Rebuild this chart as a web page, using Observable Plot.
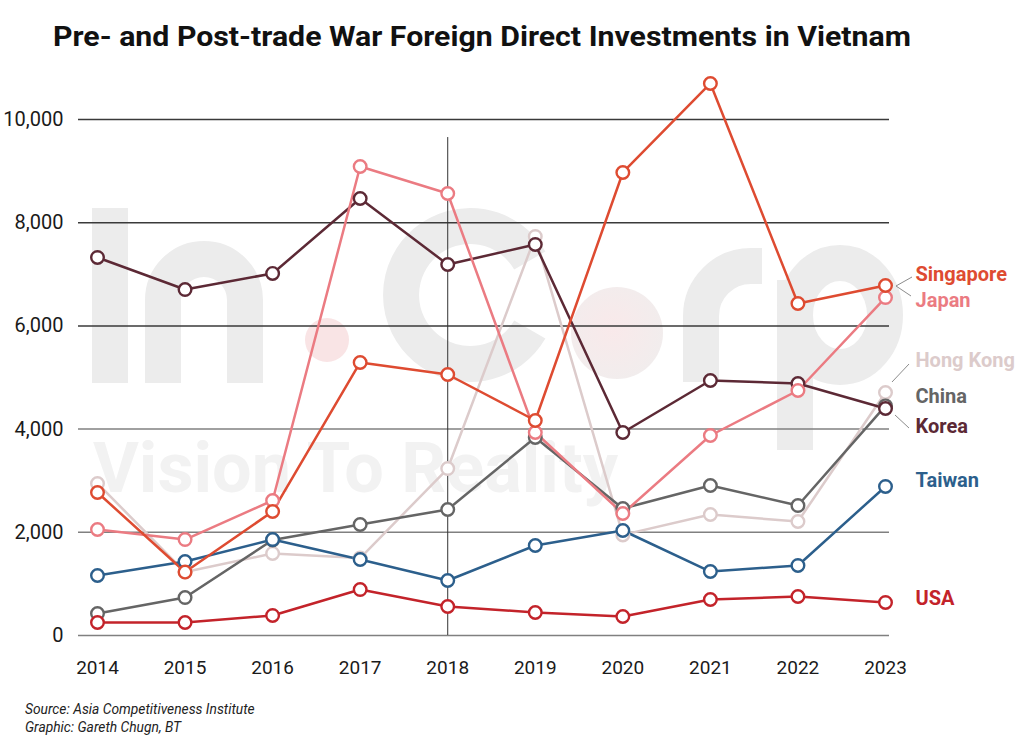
<!DOCTYPE html>
<html>
<head>
<meta charset="utf-8">
<script src="https://cdn.jsdelivr.net/npm/d3@7"></script>
<script src="https://cdn.jsdelivr.net/npm/@observablehq/plot@0.6"></script>
<style>
  html, body { margin: 0; padding: 0; background: #fff; }
  #wrap { position: relative; width: 1024px; height: 744px; overflow: hidden; font-family: Roboto, "Noto Sans", sans-serif; }
  #wm { position: absolute; left: 0; top: 0; z-index: 0; }
  #title { position: relative; z-index: 1; height: 70px; box-sizing: border-box; padding: 24px 0 0 53px; white-space: nowrap; }
  #title span { display: inline-block; font-size: 27px; line-height: 27px; font-weight: 700; color: #111; transform-origin: 0 50%; }
  #chart { position: relative; z-index: 1; height: 630px; }
  #caption { position: relative; z-index: 1; padding-left: 25px; font-size: 13.8px; line-height: 18px; font-style: italic; color: #222; }
</style>
</head>
<body>
<div id="wrap">
  <svg id="wm" width="1024" height="744" aria-hidden="true">
    <rect x="92" y="208" width="36" height="175" fill="#ececec"/>
    <g fill="none" stroke="#ececec" stroke-width="36">
      <path d="M163,383 V300 A41,41 0 0 1 245,300 V383"/>
      <path d="M529.8,260.5 A69,69 0 1 0 529.8,329.5"/>
      <path d="M701,382 V316 A50,50 0 0 1 751,266 H762"/>
      <line x1="795" y1="280" x2="795" y2="450"/>
      <ellipse cx="840" cy="315" rx="45" ry="52"/>
    </g>
    <circle cx="327" cy="340" r="22" fill="#f9e4e5"/>
    <defs>
      <radialGradient id="globe" cx="45%" cy="45%" r="60%">
        <stop offset="0%" stop-color="#f9e9ea"/>
        <stop offset="100%" stop-color="#f1eded"/>
      </radialGradient>
    </defs>
    <circle cx="617" cy="333" r="46" fill="url(#globe)"/>
    <text x="93" y="492" font-family="Roboto" font-weight="700" font-size="70" fill="#f2f2f2" textLength="525" lengthAdjust="spacingAndGlyphs">Vision To Reality</text>
  </svg>
  <div id="title"><span>Pre- and Post-trade War Foreign Direct Investments in Vietnam</span></div>
  <div id="chart"></div>
  <div id="caption">Source: Asia Competitiveness Institute<br>Graphic: Gareth Chugn, BT</div>
</div>
<script>
// ---- data ----
const years = [2014, 2015, 2016, 2017, 2018, 2019, 2020, 2021, 2022, 2023];
const hongKong  = [2946, 1230, 1590, 1500, 3236, 7733, 1950, 2345, 2209, 4709];
const china     = [ 426,  736, 1850, 2151, 2442, 3837, 2461, 2907, 2519, 4450];
const korea     = [7326, 6705, 7016, 8469, 7190, 7578, 3934, 4942, 4884, 4399];
const japan     = [2054, 1860, 2616, 9089, 8566, 3934, 2364, 3876, 4748, 6550];
const taiwan    = [1163, 1434, 1860, 1473, 1066, 1744, 2035, 1240, 1357, 2888];
const singapore = [2771, 1230, 2403, 5291, 5058, 4167, 8973, 10698, 6434, 6783];
const usa       = [ 252,  252,  388,  891,  562,  446,  368,  698,  756,  640];
const countries = ["Hong Kong", "China", "Korea", "Japan", "Taiwan", "Singapore", "USA"];
const seriesValues = [hongKong, china, korea, japan, taiwan, singapore, usa];
const yTicks = [0, 2000, 4000, 6000, 8000, 10000];
const dividerYear = 2018;
const dividerTop = 9650;

// ---- styles ----
const colors = ["#dccbcb", "#656565", "#5c2935", "#eb7b82", "#2c5f8c", "#de4b31", "#c3232a"];
// label offsets (px) from the last point
const labelDy = {"Singapore": -11, "Japan": 3, "Hong Kong": -32, "China": -9, "Korea": 18, "Taiwan": -6, "USA": -4};
const leaderPaths = [
  {country: "Singapore", pts: [[27, -8], [11, 1], [26, 11]]},
  {country: "Hong Kong", pts: [[7, -10], [24, -28]]},
  {country: "Korea", pts: [[10, 7], [24, 20]]}
];

const table = countries.flatMap((c, k) => years.map((year, i) => ({country: c, year, value: seriesValues[k][i]})));
const lastOf = c => table.find(d => d.country === c && d.year === years[years.length - 1]);

function leaders(index, scales) {
  const g = d3.create("svg:g").attr("fill", "none").attr("stroke", "#8c8c8c").attr("stroke-width", 1);
  for (const l of leaderPaths) {
    const d = lastOf(l.country);
    const px = scales.x(d.year), py = scales.y(d.value);
    g.append("path").attr("d", "M" + l.pts.map(([dx, dy]) => `${px + dx},${py + dy}`).join("L"));
  }
  return g.node();
}

const labelMarks = countries.map((c, k) => Plot.text([lastOf(c)], {
  x: "year", y: "value", text: "country", dx: 30, dy: labelDy[c],
  textAnchor: "start", fill: colors[k], fontWeight: "bold", fontSize: 20
}));

const plot = Plot.plot({
  width: 1024,
  height: 630,
  marginLeft: 78,
  marginRight: 135,
  marginTop: 49,
  marginBottom: 65,
  style: {background: "transparent", fontFamily: "Roboto, 'Noto Sans', sans-serif", color: "#1a1a1a"},
  x: {domain: [years[0], years[years.length - 1]], range: [97, 885], label: null},
  y: {domain: [0, 10000], label: null},
  color: {domain: countries, range: colors},
  marks: [
    Plot.ruleY(yTicks, {stroke: d => d >= 6000 ? "#3a3a3a" : "#808080", strokeWidth: 1.5}),
    Plot.ruleX([dividerYear], {y1: 0, y2: dividerTop, stroke: "#333", strokeWidth: 1}),
    Plot.axisY({ticks: yTicks, tickSize: 0, tickPadding: 15, fontSize: 20, tickFormat: d3.format(","), label: null}),
    Plot.axisX({ticks: years, tickSize: 0, tickPadding: 25, fontSize: 19, tickFormat: d => String(d), label: null}),
    Plot.line(table, {x: "year", y: "value", z: "country", stroke: "country", strokeWidth: 2.5}),
    Plot.dot(table, {x: "year", y: "value", stroke: "country", fill: "white", r: 6.3, strokeWidth: 2.4}),
    leaders,
    ...labelMarks
  ]
});
document.getElementById("chart").appendChild(plot);

// fit title width to reference
const t = document.querySelector("#title span");
const w = t.getBoundingClientRect().width;
t.style.transform = `scaleX(${858 / w})`;
</script>
</body>
</html>
